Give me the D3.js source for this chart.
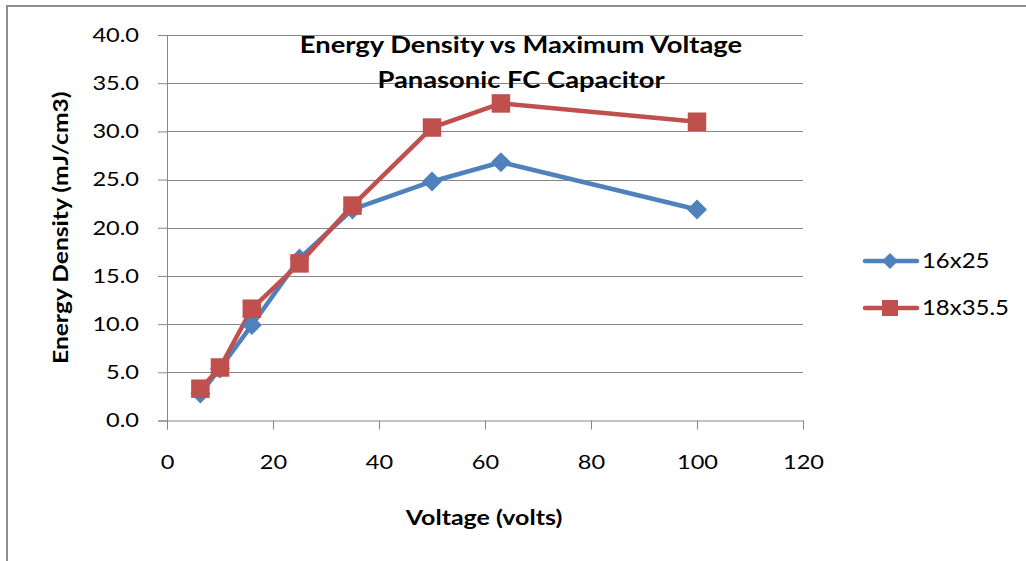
<!DOCTYPE html>
<html>
<head>
<meta charset="utf-8">
<script src="https://cdn.jsdelivr.net/npm/d3@7"></script>
<style>
  html, body { margin: 0; padding: 0; background: #fff; }
  svg { display: block; }
  text { font-family: Lato, "Open Sans", sans-serif; fill: #000; }
</style>
</head>
<body>
<svg id="chart" width="1026" height="561"></svg>
<script>
// ---- data ----
const title1 = "Energy Density vs Maximum Voltage";
const title2 = "Panasonic FC Capacitor";
const xLabel = "Voltage (volts)";
const yLabel = "Energy Density (mJ/cm3)";
const voltage = [6.3, 10, 16, 25, 35, 50, 63, 100];
const series16x25 = [2.8, 5.4, 9.9, 16.8, 21.9, 24.8, 26.8, 21.9];
const series18x355 = [3.3, 5.5, 11.6, 16.3, 22.3, 30.4, 32.9, 31.0];
const seriesNames = ["16x25", "18x35.5"];
const xTicks = [0, 20, 40, 60, 80, 100, 120];
const yTicks = [0, 5, 10, 15, 20, 25, 30, 35, 40];

// ---- setup ----
const svg = d3.select("#chart");
const W = 1026, H = 561;
const pLeft = 167, pRight = 803, pTop = 35, pBottom = 420.5;
const x = d3.scaleLinear().domain([0, 120]).range([pLeft, pRight]);
const y = d3.scaleLinear().domain([0, 40]).range([pBottom, pTop]);
const grid = "#878787";
const colors = ["#4F81BD", "#C0504D"];

// horizontally widen text (reference font is a wide humanist face)
function stretch(sel, k) {
  sel.each(function () {
    const t = d3.select(this);
    const x0 = +(t.attr("x") || 0);
    const tr = t.attr("transform") || "";
    t.attr("x", x0 / k).attr("transform", `${tr} scale(${k},1)`);
  });
}

// outer chart frame (partially visible)
svg.append("rect").attr("x", 7).attr("y", 6).attr("width", W + 10).attr("height", H + 10)
  .attr("fill", "none").attr("stroke", "#8e8e8e").attr("stroke-width", 2);

// gridlines
svg.append("g").selectAll("line").data(yTicks.filter(d => d > 0)).join("line")
  .attr("x1", pLeft).attr("x2", pRight)
  .attr("y1", d => Math.round(y(d)) + 0.5).attr("y2", d => Math.round(y(d)) + 0.5)
  .attr("stroke", grid).attr("stroke-width", 1);

// y axis
const yAxis = svg.append("g").attr("transform", `translate(${pLeft},0)`)
  .call(d3.axisLeft(y).tickValues(yTicks).tickFormat(d3.format(".1f")).tickSize(9).tickPadding(19));
// x axis
const xAxis = svg.append("g").attr("transform", `translate(0,${pBottom})`)
  .call(d3.axisBottom(x).tickValues(xTicks).tickFormat(d3.format("d")).tickSize(9).tickPadding(25));
[yAxis, xAxis].forEach(g => {
  g.select(".domain").attr("stroke", grid);
  g.selectAll(".tick line").attr("stroke", grid);
  g.selectAll(".tick text").attr("font-family", "Lato, 'Open Sans', sans-serif")
    .attr("font-size", 20).attr("fill", "#000");
  stretch(g.selectAll(".tick text"), 1.18);
});

// series
const data = [series16x25, series18x355];
const line = d3.line().x((d, i) => x(voltage[i])).y(d => y(d));
data.forEach((vals, s) => {
  svg.append("path").datum(vals).attr("d", line)
    .attr("fill", "none").attr("stroke", colors[s]).attr("stroke-width", 4.5)
    .attr("stroke-linejoin", "round").attr("stroke-linecap", "round");
});
// markers
svg.append("g").selectAll("path").data(series16x25).join("path")
  .attr("d", d3.symbol(d3.symbolSquare, 200)())
  .attr("transform", (d, i) => `translate(${x(voltage[i])},${y(d)}) rotate(45)`)
  .attr("fill", colors[0]);
svg.append("g").selectAll("path").data(series18x355).join("path")
  .attr("d", d3.symbol(d3.symbolSquare, 342)())
  .attr("transform", (d, i) => `translate(${x(voltage[i])},${y(d)})`)
  .attr("fill", colors[1]);

// titles
stretch(svg.append("text").attr("x", 521).attr("y", 53).attr("text-anchor", "middle")
  .attr("font-size", 23).attr("font-weight", "bold").text(title1), 1.19);
stretch(svg.append("text").attr("x", 521).attr("y", 88).attr("text-anchor", "middle")
  .attr("font-size", 23).attr("font-weight", "bold").text(title2), 1.19);
stretch(svg.append("text").attr("x", 484).attr("y", 525).attr("text-anchor", "middle")
  .attr("font-size", 20).attr("font-weight", "bold").text(xLabel), 1.25);
stretch(svg.append("text").attr("transform", `translate(68,${(pTop + pBottom) / 2}) rotate(-90)`)
  .attr("text-anchor", "middle").attr("font-size", 20).attr("font-weight", "bold").text(yLabel), 1.23);

// legend
const legY = [261, 308];
seriesNames.forEach((name, s) => {
  const g = svg.append("g");
  g.append("line").attr("x1", 865).attr("x2", 917).attr("y1", legY[s]).attr("y2", legY[s])
    .attr("stroke", colors[s]).attr("stroke-width", 4.5).attr("stroke-linecap", "round");
  if (s === 0) {
    g.append("path").attr("d", d3.symbol(d3.symbolSquare, 130)())
      .attr("transform", `translate(890,${legY[s]}) rotate(45)`).attr("fill", colors[s]);
  } else {
    g.append("path").attr("d", d3.symbol(d3.symbolSquare, 256)())
      .attr("transform", `translate(890,${legY[s]})`).attr("fill", colors[s]);
  }
  stretch(g.append("text").attr("x", 922).attr("y", legY[s] + 7).attr("font-size", 21).text(name), 1.14);
});
</script>
</body>
</html>
